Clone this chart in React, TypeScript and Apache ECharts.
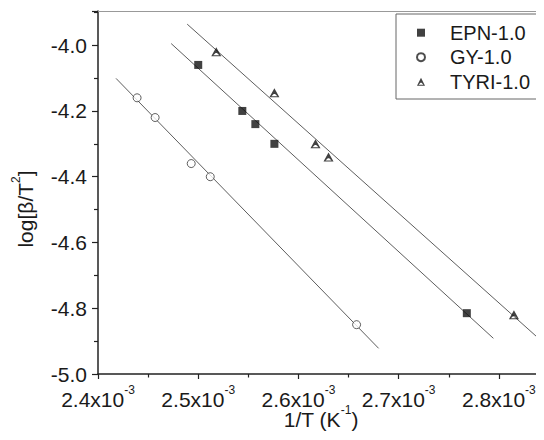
import React, { useEffect, useRef } from "react";
import * as echarts from "echarts";

// x values in units of 10^-3 K^-1
const epnX = [2.5, 2.544, 2.557, 2.576, 2.768];
const epnY = [-4.06, -4.2, -4.24, -4.3, -4.815];
const gyX = [2.439, 2.457, 2.493, 2.512, 2.658];
const gyY = [-4.16, -4.22, -4.36, -4.4, -4.85];
const tyriX = [2.518, 2.576, 2.617, 2.63, 2.815];
const tyriY = [-4.02, -4.145, -4.3, -4.34, -4.82];

const epnFitX = [2.473, 2.7945];
const epnFitY = [-3.995, -4.8915];
const gyFitX = [2.418, 2.68];
const gyFitY = [-4.101, -4.922];
const tyriFitX = [2.489, 2.85];
const tyriFitY = [-3.936, -4.92];

const seriesNames = ["EPN-1.0", "GY-1.0", "TYRI-1.0"];
const xTicks = { min: 2.4, max: 2.845, step: 0.1 };
const yTicks = { min: -5.0, max: -3.896, step: 0.2 };

const FONT = "'Liberation Sans', Arial, sans-serif";
const TRI = "path://M50 0 L100 100 L0 100 Z M43 63 L20 88 L80 88 L57 63 Z";
const SQR = "path://M0 0 L100 0 L100 100 L0 100 Z";

const zip = (xs: number[], ys: number[]) => xs.map((x, i) => [x, ys[i]]);

export default function App() {
  const ref = useRef<HTMLDivElement>(null);
  useEffect(() => {
    if (!ref.current) return;
    const chart = echarts.init(ref.current, null, { renderer: "svg" });
    const richLabel = {
      a: { fontSize: 21, fontFamily: FONT, color: "#1a1a1a", lineHeight: 31, verticalAlign: "middle" },
      s: { fontSize: 12, fontFamily: FONT, color: "#1a1a1a", lineHeight: 12, verticalAlign: "top" },
    };
    const fitLine = (xs: number[], ys: number[]) => ({
      type: "line",
      data: zip(xs, ys),
      symbol: "none",
      silent: true,
      lineStyle: { color: "#333", width: 0.8 },
      z: 1,
    });
    chart.setOption({
      animation: false,
      backgroundColor: "#fff",
      grid: { left: 98, right: 0, top: 11, bottom: 66, containLabel: false, outerBoundsMode: "none" },
      xAxis: [
        {
          type: "value",
          min: xTicks.min,
          max: xTicks.max,
          interval: xTicks.step,
          name: "{a|1/T (K}{s|-1}{a|)}",
          nameLocation: "middle",
          nameGap: 30,
          nameMoveOverlap: false,
          nameTextStyle: { rich: richLabel },
          axisLine: { lineStyle: { color: "#222", width: 1.5 } },
          axisTick: { inside: false, length: 5, lineStyle: { color: "#222", width: 1.2 } },
          minorTick: { show: true, splitNumber: 2, length: 3.5, lineStyle: { color: "#222", width: 1.2 } },
          splitLine: { show: false },
          axisLabel: {
            margin: 10,
            showMaxLabel: false,
            formatter: (v: number) => `{a|${v.toFixed(1)}x10}{s|-3}`,
            rich: richLabel,
          },
        },
        {
          type: "value",
          position: "top",
          min: xTicks.min,
          max: xTicks.max,
          axisLine: { show: true, lineStyle: { color: "#999", width: 1 } },
          axisTick: { show: false },
          axisLabel: { show: false },
          splitLine: { show: false },
        },
      ],
      yAxis: {
        type: "value",
        min: yTicks.min,
        max: yTicks.max,
        interval: yTicks.step,
        axisLine: { show: true, lineStyle: { color: "#222", width: 1.5 } },
        axisTick: { inside: false, length: 6, lineStyle: { color: "#222", width: 1.2 } },
        minorTick: { show: true, splitNumber: 2, length: 4, lineStyle: { color: "#222", width: 1.2 } },
        splitLine: { show: false },
        axisLabel: {
          margin: 11,
          showMaxLabel: false,
          fontSize: 21,
          fontFamily: FONT,
          color: "#1a1a1a",
          formatter: (v: number) => v.toFixed(1),
        },
      },
      legend: {
        left: 396,
        top: 14,
        orient: "vertical",
        data: [
          { name: seriesNames[0], icon: SQR },
          { name: seriesNames[1], icon: "circle" },
          { name: seriesNames[2], icon: TRI },
        ],
        itemWidth: 8,
        itemHeight: 8,
        itemGap: 4.5,
        padding: [8.7, 13, 7.3, 20],
        borderColor: "#666",
        borderWidth: 1,
        borderRadius: 0,
        textStyle: { fontSize: 20, fontFamily: FONT, color: "#1a1a1a", lineHeight: 20, padding: [0, 0, 0, 20] },
      },
      graphic: [
        {
          type: "text",
          x: 25,
          y: 209,
          rotation: Math.PI / 2,
          style: {
            text: "{a|log[β/T}{s|2}{a|]}",
            rich: richLabel,
            align: "center",
            verticalAlign: "middle",
            fill: "#1a1a1a",
          },
        },
      ],
      series: [
        fitLine(epnFitX, epnFitY),
        fitLine(gyFitX, gyFitY),
        fitLine(tyriFitX, tyriFitY),
        {
          name: seriesNames[0],
          type: "scatter",
          data: zip(epnX, epnY),
          symbol: SQR,
          symbolSize: 8,
          itemStyle: { color: "#111" },
          z: 3,
        },
        {
          name: seriesNames[1],
          type: "scatter",
          data: zip(gyX, gyY),
          symbol: "circle",
          symbolSize: 8,
          itemStyle: { color: "#fff", borderColor: "#222", borderWidth: 0.9 },
          z: 3,
        },
        {
          name: seriesNames[2],
          type: "scatter",
          data: zip(tyriX, tyriY),
          symbol: TRI,
          symbolSize: [10, 9],
          itemStyle: { color: "#111" },
          z: 3,
        },
      ],
    });
    return () => chart.dispose();
  }, []);
  return <div ref={ref} style={{ width: 544, height: 440, margin: -8 }} />;
}
